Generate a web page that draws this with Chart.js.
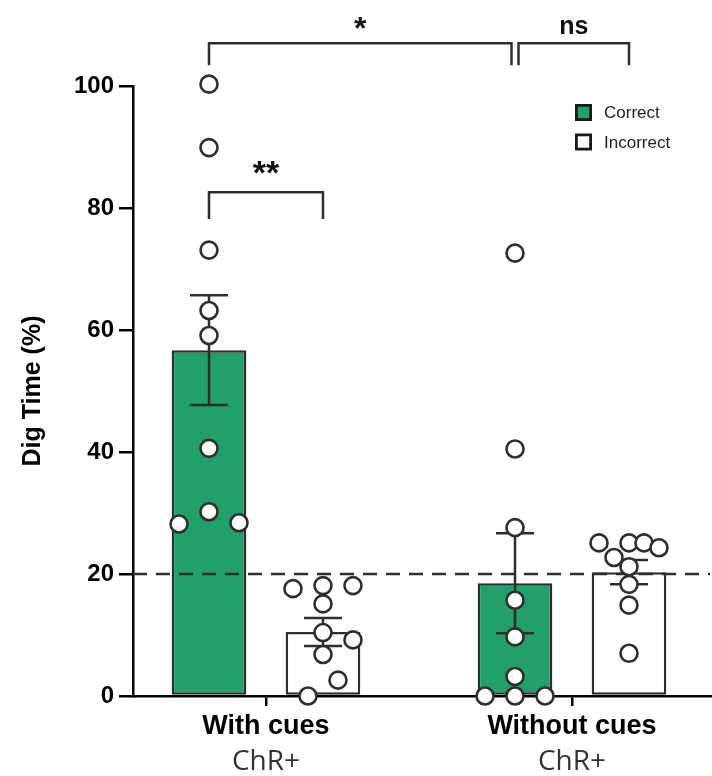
<!DOCTYPE html>
<html>
<head>
<meta charset="utf-8">
<script src="https://cdn.jsdelivr.net/npm/chart.js@4.4.0/dist/chart.umd.min.js"></script>
<style>
  html, body { margin: 0; padding: 0; background: #fff; }
  canvas { display: block; }
</style>
</head>
<body>
<canvas id="digChart" width="712" height="776"></canvas>
<script>
// ---- data ----
const categories = ['With cues', 'Without cues'];
const groupLabels = ['ChR+', 'ChR+'];
const seriesNames = ['Correct', 'Incorrect'];
const correctMeans = [56.7, 18.5];
const correctSem = [9.0, 8.2];
const incorrectMeans = [10.5, 20.3];
const incorrectSem = [2.3, 2.0];
const correctPoints = [
  [100.3, 89.9, 73.1, 63.2, 59.1, 40.6, 30.2, 28.2, 28.4],
  [72.6, 40.5, 27.6, 15.7, 9.7, 3.2, 0, 0, 0]
];
const incorrectPoints = [
  [17.6, 18.1, 18.1, 15.1, 10.4, 9.2, 6.8, 2.6, 0],
  [25.1, 25.1, 25.1, 24.3, 22.7, 21.2, 18.3, 14.9, 7.0]
];
// horizontal spread of the dots, in steps
const correctJitter = [
  [0, 0, 0, 0, 0, 0, 0, -2, 2],
  [0, 0, 0, 0, 0, 0, -2, 0, 2]
];
const incorrectJitter = [
  [-2, 0, 2, 0, 0, 2, 0, 1, -1],
  [-2, 0, 1, 2, -1, 0, 0, 0, 0]
];
const yTicks = [0, 20, 40, 60, 80, 100];
const chanceLevel = 20;
// significance brackets: [group, series] at each end
const sigFrom = [[0, 0], [0, 0], [1, 0]];
const sigTo = [[0, 1], [1, 0], [1, 1]];
const sigTop = [82.6, 107.0, 107.0];
const sigLegEnd = [78.2, 103.4, 103.4];
const sigLabels = ['**', '*', 'ns'];

// ---- style ----
const GREEN = '#22a06b';
const DARK = '#2e2e2e';
const SANS = '"Liberation Sans", Arial, sans-serif';
const X_MIN = 0.5654, X_MAX = 2.4575;
const CAT_PCT = 0.745, BAR_PCT = 0.655;
const JITTER_STEP = 0.049;
const sigFontSize = [34, 32, 25];
const sigLift = [8, 4, 9.5];

function barData(means) {
  return means.map((v, i) => ({ x: i + 1, y: v }));
}
function dotData(points, jitter, side) {
  const out = [];
  points.forEach((vals, g) => {
    vals.forEach((v, k) => {
      out.push({ x: g + 1 + side * CAT_PCT / 4 + jitter[g][k] * JITTER_STEP, y: v });
    });
  });
  return out;
}
function groupTicks(scale) {
  scale.ticks = categories.map((c, i) => ({ value: i + 1 }));
}

const dotStyle = {
  type: 'scatter', order: 0, clip: false,
  pointRadius: 8.5, pointBorderWidth: 2.6,
  pointBackgroundColor: '#fff', pointBorderColor: DARK
};

let overlayDone = false;
const overlay = {
  id: 'overlay',
  beforeDatasetsDraw() { overlayDone = false; },
  beforeDatasetDraw(chart, args) {
    if (args.meta.type !== 'scatter' || overlayDone) return;
    overlayDone = true;
    const c = chart.ctx, y = chart.scales.y, area = chart.chartArea;
    // dashed chance line
    c.save();
    c.strokeStyle = DARK;
    c.lineWidth = 2.5;
    c.setLineDash([14, 9]);
    c.beginPath();
    c.moveTo(area.left, y.getPixelForValue(chanceLevel));
    c.lineTo(area.right - 2, y.getPixelForValue(chanceLevel));
    c.stroke();
    c.restore();
    // error bars
    c.save();
    c.strokeStyle = DARK;
    c.lineWidth = 2.5;
    [[2, correctMeans, correctSem], [3, incorrectMeans, incorrectSem]].forEach(([di, means, sems]) => {
      chart.getDatasetMeta(di).data.forEach((bar, i) => {
        const top = y.getPixelForValue(means[i] + sems[i]);
        const bot = y.getPixelForValue(means[i] - sems[i]);
        c.beginPath();
        c.moveTo(bar.x, top); c.lineTo(bar.x, bot);
        c.moveTo(bar.x - 19, top); c.lineTo(bar.x + 19, top);
        c.moveTo(bar.x - 19, bot); c.lineTo(bar.x + 19, bot);
        c.stroke();
      });
    });
    c.restore();
  },
  afterDraw(chart) {
    const c = chart.ctx, y = chart.scales.y;
    const barX = (end) => chart.getDatasetMeta(2 + end[1]).data[end[0]].x;
    const shared = (b, end) => sigLabels.some((_, o) => o !== b && sigTop[o] === sigTop[b] &&
      [sigFrom[o], sigTo[o]].some(e => e[0] === end[0] && e[1] === end[1]));
    // brackets
    c.save();
    c.strokeStyle = DARK;
    c.lineWidth = 2.5;
    c.fillStyle = '#111';
    c.textAlign = 'center';
    c.textBaseline = 'alphabetic';
    sigLabels.forEach((lab, b) => {
      let x1 = barX(sigFrom[b]), x2 = barX(sigTo[b]);
      if (shared(b, sigFrom[b])) x1 += 3.5;
      if (shared(b, sigTo[b])) x2 -= 3.5;
      const yt = y.getPixelForValue(sigTop[b]);
      const yl = y.getPixelForValue(sigLegEnd[b]);
      c.beginPath();
      c.moveTo(x1, yl); c.lineTo(x1, yt); c.lineTo(x2, yt); c.lineTo(x2, yl);
      c.stroke();
      c.font = 'bold ' + sigFontSize[b] + 'px ' + SANS;
      c.fillText(lab, (x1 + x2) / 2, yt - sigLift[b]);
    });
    c.restore();
    // legend
    c.save();
    const fills = [GREEN, '#fff'];
    seriesNames.forEach((name, i) => {
      const cy = 112.5 + i * 29.5;
      c.fillStyle = fills[i];
      c.fillRect(575, cy - 8.5, 17, 17);
      c.strokeStyle = '#1a1a1a';
      c.lineWidth = 2.8;
      c.strokeRect(576.4, cy - 7.1, 14.2, 14.2);
      c.fillStyle = '#222';
      c.font = '17px ' + SANS;
      c.textAlign = 'left';
      c.textBaseline = 'middle';
      c.fillText(name, 604, cy + 1);
    });
    c.restore();
  }
};

const ctx = document.getElementById('digChart').getContext('2d');
new Chart(ctx, {
  type: 'bar',
  data: {
    datasets: [
      Object.assign({ label: 'Correct dots', data: dotData(correctPoints, correctJitter, -1) }, dotStyle),
      Object.assign({ label: 'Incorrect dots', data: dotData(incorrectPoints, incorrectJitter, 1) }, dotStyle),
      {
        label: seriesNames[0], data: barData(correctMeans), order: 1,
        backgroundColor: GREEN, borderColor: DARK, borderWidth: 2.5, borderSkipped: false,
        barPercentage: BAR_PCT, categoryPercentage: CAT_PCT
      },
      {
        label: seriesNames[1], data: barData(incorrectMeans), order: 1,
        backgroundColor: '#fff', borderColor: DARK, borderWidth: 2.5, borderSkipped: false,
        barPercentage: BAR_PCT, categoryPercentage: CAT_PCT
      }
    ]
  },
  options: {
    responsive: false,
    animation: false,
    events: [],
    devicePixelRatio: 1,
    layout: { autoPadding: false, padding: { top: 86, right: 0, left: 0, bottom: 0 } },
    plugins: {
      legend: { display: false },
      tooltip: { enabled: false }
    },
    scales: {
      x: {
        type: 'linear', position: 'bottom', min: X_MIN, max: X_MAX, offset: false,
        afterBuildTicks: groupTicks,
        afterFit: s => { s.height = 48; },
        ticks: {
          callback: v => categories[v - 1], color: '#000', padding: 4,
          maxRotation: 0, autoSkip: false,
          font: { family: SANS, size: 27, weight: 'bold' }
        },
        grid: { offset: false, drawOnChartArea: false, tickLength: 10, color: '#000', lineWidth: 2.5 },
        border: { color: '#000', width: 2.5 }
      },
      x2: {
        type: 'linear', position: 'bottom', min: X_MIN, max: X_MAX, offset: false,
        afterBuildTicks: groupTicks,
        afterFit: s => { s.height = 32; },
        ticks: {
          callback: v => groupLabels[v - 1], color: '#333', padding: 1,
          maxRotation: 0, autoSkip: false,
          font: { family: '"Open Sans", sans-serif', size: 28 }
        },
        grid: { offset: false, display: false, drawTicks: false },
        border: { display: false }
      },
      y: {
        min: 0, max: 100,
        afterBuildTicks: s => { s.ticks = yTicks.map(v => ({ value: v })); },
        afterFit: s => { s.width = 133; },
        ticks: { color: '#000', padding: 5, font: { family: SANS, size: 24, weight: 'bold' } },
        grid: { drawOnChartArea: false, tickLength: 14, color: '#000', lineWidth: 2.5 },
        border: { color: '#000', width: 2.5 },
        title: {
          display: true, text: 'Dig Time (%)', color: '#000',
          font: { family: SANS, size: 25, weight: 'bold' },
          padding: { top: 18, bottom: 0 }
        }
      }
    }
  },
  plugins: [overlay]
});
</script>
</body>
</html>
